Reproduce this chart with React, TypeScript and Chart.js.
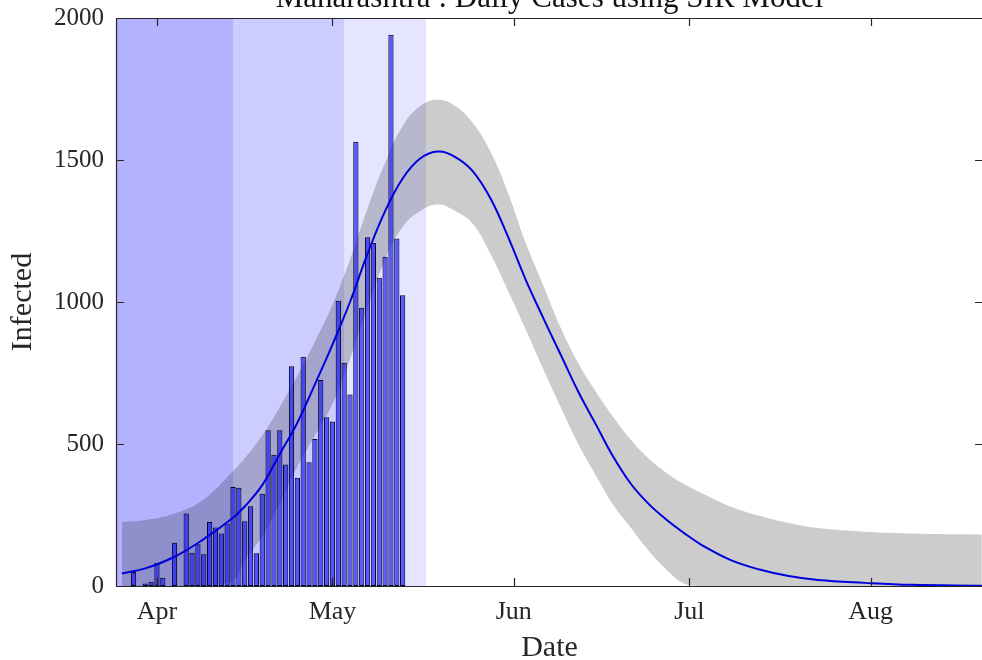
import React, { useEffect, useRef } from "react";
import { Chart, registerables } from "chart.js";

Chart.register(...registerables);

const TITLE = "Maharashtra : Daily Cases using SIR Model";
const X_TITLE = "Date";
const Y_TITLE = "Infected";
const FONT = "'Liberation Serif', 'Times New Roman', serif";

// x values are days counted from 25 March (day 0)
const tickDays = [7, 37, 68, 98, 129];
const tickLabels = ["Apr", "May", "Jun", "Jul", "Aug"];

// lockdown phases (shaded)
const phaseStart = [0, 20, 39];
const phaseEnd = [20, 39, 53];
const phaseAlpha = [0.3, 0.2, 0.1];

// observed daily cases
const caseDays = [
  2, 3, 4, 5, 6, 7, 8, 9, 10, 11, 12, 13, 14, 15, 16, 17, 18, 19, 20, 21, 22, 23, 24, 25,
  26, 27, 28, 29, 30, 31, 32, 33, 34, 35, 36, 37, 38, 39, 40, 41, 42, 43, 44, 45, 46, 47, 48, 49,
];
const dailyCases = [
  0, 49, 0, 9, 15, 82, 29, 0, 152, 0, 255, 117, 147, 112, 225, 206, 185, 220, 349, 346, 228, 281, 115, 325,
  548, 462, 548, 428, 774, 381, 807, 436, 518, 725, 594, 579, 1004, 786, 674, 1564, 980, 1228, 1208, 1085, 1159, 1941, 1224, 1024,
];

// SIR model fit and confidence band
const modelDays = [
  1, 5, 10, 15, 20, 22, 25, 28, 31, 34, 37, 40, 43, 46, 49, 52, 55, 58, 61, 64, 67, 70, 73, 76, 79, 82, 85, 88,
  91, 94, 97, 100, 105, 110, 115, 120, 128, 136, 148,
];
const modelFit = [
  44, 62, 103, 165, 240, 280, 355, 465, 575, 710, 850, 1000, 1170, 1320, 1435, 1505, 1530, 1510, 1460, 1365, 1230, 1080, 945, 815, 685, 570, 455, 360,
  290, 235, 188, 146, 92, 58, 35, 21, 11, 4, 1,
];
const bandUpper = [
  225, 232, 255, 305, 405, 450, 530, 630, 740, 860, 990, 1150, 1330, 1490, 1620, 1690, 1712, 1690, 1630, 1530, 1385, 1210, 1060, 910, 785, 685, 595, 515,
  450, 400, 360, 328, 280, 247, 222, 204, 191, 185, 181,
];
const bandLower = [
  0, 0, 0, 0, 20, 90, 175, 290, 420, 530, 640, 800, 980, 1150, 1265, 1320, 1343, 1320, 1275, 1170, 1040, 905, 765, 630, 500, 390, 285, 205,
  125, 60, 10, 0, 0, 0, 0, 0, 0, 0, 0,
];

const AXIS_COLOR = "#262626";

const decorPlugin = {
  id: "decor",
  beforeDatasetsDraw(chart: any) {
    const { ctx, chartArea, scales } = chart;
    const x = scales.x;
    ctx.save();
    for (let i = 0; i < phaseStart.length; i++) {
      const x0 = x.getPixelForValue(phaseStart[i]);
      const x1 = x.getPixelForValue(phaseEnd[i]);
      ctx.fillStyle = `rgba(0,0,255,${phaseAlpha[i]})`;
      ctx.fillRect(x0, chartArea.top, x1 - x0, chartArea.bottom - chartArea.top);
    }
    ctx.restore();
  },
  afterDatasetsDraw(chart: any) {
    const { ctx, chartArea, scales } = chart;
    const { left, right, top, bottom } = chartArea;
    const tl = 8;
    ctx.save();
    ctx.strokeStyle = AXIS_COLOR;
    ctx.lineWidth = 1.2;
    ctx.beginPath();
    ctx.rect(Math.round(left) + 0.5, Math.round(top) + 0.5, Math.round(right - left), Math.round(bottom - top));
    ctx.stroke();
    ctx.beginPath();
    for (const d of tickDays) {
      const px = Math.round(scales.x.getPixelForValue(d)) + 0.5;
      ctx.moveTo(px, bottom);
      ctx.lineTo(px, bottom - tl);
      ctx.moveTo(px, top);
      ctx.lineTo(px, top + tl);
    }
    for (const t of scales.y.ticks) {
      const py = Math.round(scales.y.getPixelForValue(t.value)) + 0.5;
      ctx.moveTo(left, py);
      ctx.lineTo(left + tl, py);
      ctx.moveTo(right, py);
      ctx.lineTo(right - tl, py);
    }
    ctx.stroke();
    // title, centred over the plot area
    ctx.fillStyle = "#111";
    ctx.font = `31px ${FONT}`;
    ctx.textAlign = "center";
    ctx.textBaseline = "alphabetic";
    ctx.fillText(TITLE, (left + right) / 2, top - 11);
    ctx.restore();
  },
};

export default function App() {
  const ref = useRef<HTMLCanvasElement>(null);

  useEffect(() => {
    document.body.style.margin = "0";
    const canvas = ref.current;
    if (!canvas) return;
    const chart = new Chart(canvas, {
      type: "bar",
      data: {
        datasets: [
          {
            type: "line",
            label: "SIR fit",
            data: modelDays.map((d, i) => ({ x: d, y: modelFit[i] })),
            borderColor: "#0000dd",
            borderWidth: 2,
            pointRadius: 0,
            tension: 0.4,
            fill: false,
            order: 0,
          } as any,
          {
            type: "bar",
            label: "Daily cases",
            data: caseDays.map((d, i) => ({ x: d, y: dailyCases[i] })),
            backgroundColor: "rgba(30,30,255,0.7)",
            borderColor: "#000028",
            borderWidth: 1,
            borderSkipped: false,
            barPercentage: 0.9,
            categoryPercentage: 1,
            order: 1,
          } as any,
          {
            type: "line",
            label: "upper",
            data: modelDays.map((d, i) => ({ x: d, y: bandUpper[i] })),
            borderColor: "rgba(0,0,0,0)",
            borderWidth: 0,
            pointRadius: 0,
            tension: 0.4,
            backgroundColor: "rgba(0,0,0,0.2)",
            fill: "+1",
            order: 2,
          } as any,
          {
            type: "line",
            label: "lower",
            data: modelDays.map((d, i) => ({ x: d, y: bandLower[i] })),
            borderColor: "rgba(0,0,0,0)",
            borderWidth: 0,
            pointRadius: 0,
            tension: 0.4,
            fill: false,
            order: 3,
          } as any,
        ],
      },
      options: {
        responsive: false,
        animation: false,
        layout: { padding: { left: 0, right: 17, top: 48, bottom: 0 } },
        plugins: {
          legend: { display: false },
          tooltip: { enabled: false },
          title: { display: false },
        },
        scales: {
          x: {
            type: "linear",
            min: 0,
            max: 148.2,
            offset: false,
            grid: { display: false, drawTicks: false },
            border: { display: false },
            afterBuildTicks: (s: any) => {
              s.ticks = tickDays.map((v) => ({ value: v }));
            },
            ticks: {
              autoSkip: false,
              maxRotation: 0,
              padding: 11,
              color: AXIS_COLOR,
              font: { family: FONT, size: 26 },
              callback: (_v: any, i: number) => tickLabels[i],
            },
            title: {
              display: true,
              text: X_TITLE,
              color: AXIS_COLOR,
              font: { family: FONT, size: 30, lineHeight: 1 },
              padding: { top: 0, bottom: 7 },
            },
            afterFit: (s: any) => {
              s.height = 84;
            },
          },
          y: {
            min: 0,
            max: 2000,
            grid: { display: false, drawTicks: false },
            border: { display: false },
            ticks: {
              stepSize: 500,
              padding: 12,
              color: AXIS_COLOR,
              font: { family: FONT, size: 25 },
              callback: (v: any) => String(v),
            },
            title: {
              display: true,
              text: Y_TITLE,
              color: AXIS_COLOR,
              font: { family: FONT, size: 30, lineHeight: 1 },
              padding: { top: 8, bottom: 0 },
            },
            afterFit: (s: any) => {
              s.width = 116;
            },
          },
        },
      } as any,
      plugins: [decorPlugin],
    });
    return () => chart.destroy();
  }, []);

  return (
    <div style={{ position: "relative", width: 982, height: 660, overflow: "hidden", background: "#fff" }}>
      <div style={{ position: "absolute", left: 0, top: -30, width: 1000, height: 700 }}>
        <canvas ref={ref} width={1000} height={700} style={{ width: 1000, height: 700 }} />
      </div>
    </div>
  );
}
